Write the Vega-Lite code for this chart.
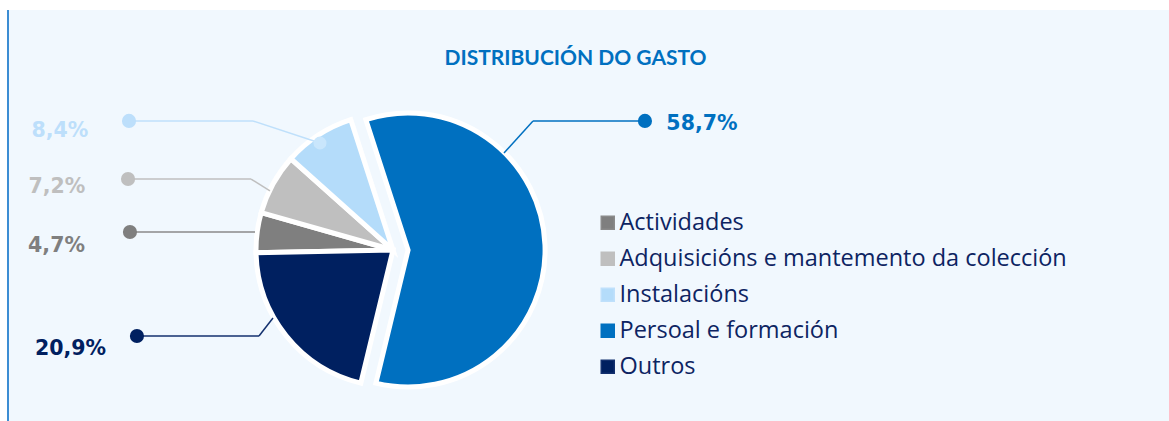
{
  "$schema": "https://vega.github.io/schema/vega-lite/v6.json",
  "autosize": "none",
  "width": 1161,
  "height": 411,
  "padding": {"left": 8, "top": 10, "right": 0, "bottom": 0},
  "background": "#FFFFFF",
  "config": {
    "view": {"fill": "#F1F8FE", "stroke": "#3C8DD3", "strokeWidth": 2, "strokeDash": [0, 2733, 411]}
  },
  "title": {
    "text": "DISTRIBUCIÓN DO GASTO",
    "font": "Lato",
    "fontSize": 21,
    "fontWeight": "bold",
    "color": "#0070C0",
    "anchor": "middle",
    "dx": -13,
    "offset": -76,
    "baseline": "alphabetic"
  },
  "data": {
    "values": [
      {"cat": "Actividades", "pct": 4.7, "label": "4,7%", "n": 1, "ax": -1.007, "ay": 0.131, "ex": -1.007, "ey": 0.131, "dotx": -1.92, "lx": -2.456, "ly": -0.015},
      {"cat": "Adquisicións e mantemento da colección", "pct": 7.2, "label": "7,2%", "n": 2, "ax": -0.898, "ay": 0.431, "ex": -1.036, "ey": 0.518, "dotx": -1.934, "lx": -2.453, "ly": 0.416},
      {"cat": "Instalacións", "pct": 8.4, "label": "8,4%", "n": 3, "ax": -0.533, "ay": 0.781, "ex": -1.022, "ey": 0.942, "dotx": -1.927, "lx": -2.431, "ly": 0.825},
      {"cat": "Persoal e formación", "pct": 58.7, "label": "58,7%", "n": 4, "ax": 0.81, "ay": 0.708, "ex": 1.022, "ey": 0.942, "dotx": 1.839, "lx": 2.255, "ly": 0.876},
      {"cat": "Outros", "pct": 20.9, "label": "20,9%", "n": 5, "ax": -0.876, "ay": -0.496, "ex": -0.978, "ey": -0.628, "dotx": -1.869, "lx": -2.354, "ly": -0.766}
    ]
  },
  "transform": [
    {"stack": "pct", "groupby": [], "sort": [{"field": "n", "order": "ascending"}], "as": ["s0", "s1"]}
  ],
  "layer": [
    {
      "transform": [{"filter": "datum.cat !== 'Persoal e formación'"}],
      "mark": {"type": "arc", "outerRadius": 137, "stroke": "#FFFFFF", "strokeWidth": 5, "strokeJoin": "miter"},
      "encoding": {
        "x": {"datum": 0, "type": "quantitative", "scale": {"domain": [-2.8102, 5.6642], "nice": false, "zero": false}, "axis": null},
        "y": {"datum": 0, "type": "quantitative", "scale": {"domain": [-1.2482, 1.7518], "nice": false, "zero": false}, "axis": null},
        "theta": {"field": "s0", "type": "quantitative", "stack": null, "scale": {"domain": [0, 99.9], "range": [-1.59, 4.6932]}},
        "theta2": {"field": "s1"},
        "color": {
          "field": "cat",
          "type": "nominal",
          "scale": {
            "domain": ["Actividades", "Adquisicións e mantemento da colección", "Instalacións", "Persoal e formación", "Outros"],
            "range": ["#7F7F7F", "#BFBFBF", "#B4DCFA", "#0070C0", "#002060"]
          },
          "legend": {
            "orient": "none",
            "legendX": 588,
            "legendY": 201,
            "title": null,
            "padding": 0,
            "symbolType": "square",
            "symbolSize": 169,
            "symbolOpacity": 1,
            "labelFont": "Open Sans",
            "labelFontSize": 23.5,
            "labelColor": "#0D2462",
            "labelOffset": 0,
            "rowPadding": 11,
            "labelLimit": 700,
            "encode": {
              "symbols": {"update": {"stroke": {"value": "#FFFFFF"}, "strokeWidth": {"value": 3}}}
            }
          }
        }
      }
    },
    {
      "transform": [{"filter": "datum.cat === 'Persoal e formación'"}],
      "mark": {"type": "arc", "outerRadius": 137, "stroke": "#FFFFFF", "strokeWidth": 5, "strokeJoin": "miter"},
      "encoding": {
        "x": {"datum": 0.11, "type": "quantitative"},
        "y": {"datum": 0, "type": "quantitative"},
        "theta": {"field": "s0", "type": "quantitative", "stack": null},
        "theta2": {"field": "s1"},
        "color": {"field": "cat", "type": "nominal"}
      }
    },
    {
      "mark": {"type": "rule", "strokeWidth": 1.5},
      "encoding": {
        "x": {"field": "ax", "type": "quantitative"},
        "y": {"field": "ay", "type": "quantitative"},
        "x2": {"field": "ex"},
        "y2": {"field": "ey"},
        "stroke": {
          "field": "cat", "type": "nominal", "legend": null,
          "scale": {
            "domain": ["Actividades", "Adquisicións e mantemento da colección", "Instalacións", "Persoal e formación", "Outros"],
            "range": ["#8A8A8A", "#BFBFBF", "#BFE0FB", "#0070C0", "#13306E"]
          }
        }
      }
    },
    {
      "mark": {"type": "rule", "strokeWidth": 1.5},
      "encoding": {
        "x": {"field": "ex", "type": "quantitative"},
        "y": {"field": "ey", "type": "quantitative"},
        "x2": {"field": "dotx"},
        "y2": {"field": "ey"},
        "stroke": {"field": "cat", "type": "nominal", "legend": null}
      }
    },
    {
      "transform": [{"filter": "datum.cat === 'Instalacións'"}],
      "mark": {"type": "point", "filled": true, "size": 170, "opacity": 1, "color": "#C9E6FC"},
      "encoding": {
        "x": {"field": "ax", "type": "quantitative"},
        "y": {"field": "ay", "type": "quantitative"}
      }
    },
    {
      "mark": {"type": "point", "filled": true, "size": 200, "opacity": 1},
      "encoding": {
        "x": {"field": "dotx", "type": "quantitative"},
        "y": {"field": "ey", "type": "quantitative"},
        "fill": {
          "field": "cat", "type": "nominal", "legend": null,
          "scale": {
            "domain": ["Actividades", "Adquisicións e mantemento da colección", "Instalacións", "Persoal e formación", "Outros"],
            "range": ["#7F7F7F", "#BFBFBF", "#BDDFFB", "#0070C0", "#002060"]
          }
        }
      }
    },
    {
      "mark": {"type": "text", "font": "DejaVu Sans", "fontSize": 20.5, "fontWeight": "bold", "align": "center", "baseline": "alphabetic"},
      "encoding": {
        "x": {"field": "lx", "type": "quantitative"},
        "y": {"field": "ly", "type": "quantitative"},
        "text": {"field": "label"},
        "fill": {"field": "cat", "type": "nominal", "legend": null}
      }
    }
  ]
}
